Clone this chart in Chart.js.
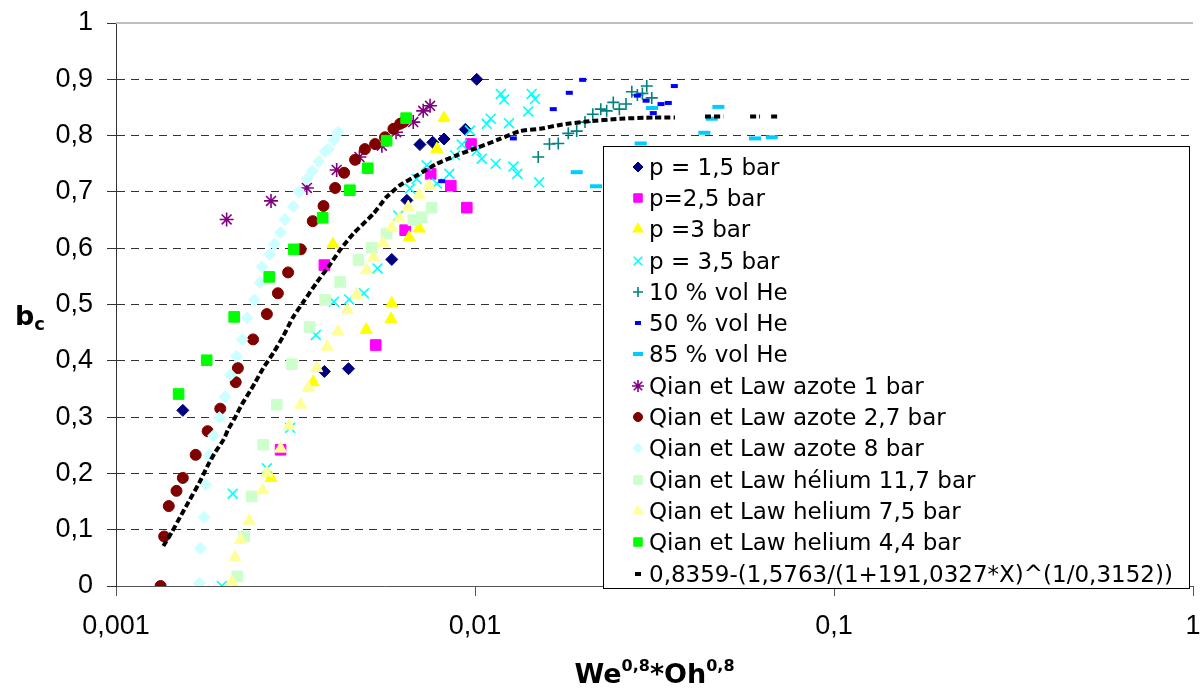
<!DOCTYPE html>
<html>
<head>
<meta charset="utf-8">
<script src="https://cdn.jsdelivr.net/npm/chart.js@4.4.1/dist/chart.umd.min.js"></script>
<style>
  body { margin: 0; background: #fff; }
  #wrap { position: relative; width: 1203px; height: 689px; }
  #legend {
    position: absolute; left: 603px; top: 146px; width: 585px; height: 437px;
    border: 1px solid #000; background: #fff; padding-top: 4px;
    font-family: "DejaVu Sans", sans-serif; font-size: 23px; color: #000;
  }
  .row { height: 31.3px; display: flex; align-items: center; white-space: nowrap; }
  .row canvas { margin-left: 23px; }
  #xtitle {
    position: absolute; left: 116px; width: 1077px; top: 656px; text-align: center;
    font-family: "DejaVu Sans", sans-serif; font-weight: bold; font-size: 27px;
  }
  #xtitle sup { font-size: 16px; vertical-align: 12px; }
  #ytitle {
    position: absolute; left: 15px; top: 300px;
    font-family: "DejaVu Sans", sans-serif; font-weight: bold; font-size: 27px;
  }
  #ytitle sub { font-size: 18px; vertical-align: -5px; }
</style>
</head>
<body>
<div id="wrap">
  <canvas id="chart" width="1203" height="689"></canvas>
  <div id="ytitle">b<sub>c</sub></div>
  <div id="xtitle">We<sup>0,8</sup>*Oh<sup>0,8</sup></div>
  <div id="legend"></div>
</div>
<script>
// axes
const xTicks = [0.001, 0.01, 0.1, 1];
const xTickLabels = ['0,001', '0,01', '0,1', '1'];
const yTickLabels = ['0', '0,1', '0,2', '0,3', '0,4', '0,5', '0,6', '0,7', '0,8', '0,9', '1'];

// mesures
const p15X = [0.001535, 0.003806, 0.004443, 0.005864, 0.00646, 0.007023, 0.007627, 0.0082, 0.009397, 0.01011];
const p15Y = [0.312, 0.381, 0.386, 0.58, 0.685, 0.784, 0.788, 0.794, 0.811, 0.9];

const p25X = [0.002874, 0.003806, 0.00529, 0.006389, 0.007527, 0.008563, 0.009487, 0.009749];
const p25Y = [0.242, 0.57, 0.428, 0.632, 0.732, 0.711, 0.672, 0.785];

const p3X = [0.001708, 0.002703, 0.003543, 0.004018, 0.004977, 0.005834, 0.005864, 0.006559, 0.006992, 0.007828, 0.0082];
const p3Y = [0, 0.192, 0.362, 0.607, 0.455, 0.474, 0.502, 0.619, 0.635, 0.776, 0.831];

const p35X = [0.0118, 0.01205, 0.01438, 0.01469, 0.01407, 0.01078, 0.01106, 0.01244, 0.00968, 0.009186, 0.008804,
  0.01011, 0.01044, 0.01142, 0.01279, 0.01312, 0.01509, 0.007335, 0.008482, 0.007828, 0.006882, 0.006589, 0.006116,
  0.00535, 0.004906, 0.004462, 0.004048, 0.003603, 0.003056, 0.002632, 0.002114, 0.001972];
const p35Y = [0.874, 0.864, 0.874, 0.865, 0.843, 0.821, 0.83, 0.822, 0.809, 0.784, 0.765,
  0.773, 0.759, 0.75, 0.745, 0.732, 0.717, 0.747, 0.732, 0.715, 0.723, 0.706, 0.658,
  0.564, 0.52, 0.509, 0.505, 0.446, 0.281, 0.209, 0.164, 0];

const he10X = [0.015, 0.01612, 0.01706, 0.01819, 0.0192, 0.02025, 0.02128, 0.0224, 0.02327, 0.02428,
  0.02524, 0.02634, 0.02734, 0.02833, 0.02926, 0.03009, 0.03107];
const he10Y = [0.762, 0.785, 0.786, 0.804, 0.808, 0.824, 0.838, 0.847, 0.844, 0.859,
  0.847, 0.856, 0.878, 0.872, 0.875, 0.888, 0.867];

const he50X = [0.00808, 0.01279, 0.01652, 0.01831, 0.01995, 0.02833, 0.02996, 0.03138, 0.03297, 0.03455, 0.03591];
const he50Y = [0.719, 0.795, 0.847, 0.876, 0.899, 0.871, 0.862, 0.84, 0.856, 0.858, 0.888];

const he85X = [0.0192, 0.02173, 0.02895, 0.03113, 0.04354, 0.04565, 0.04764, 0.06026, 0.06709];
const he85Y = [0.735, 0.71, 0.786, 0.849, 0.805, 0.83, 0.851, 0.795, 0.797];

const az1X = [0.002033, 0.002703, 0.003401, 0.004118, 0.004765, 0.005502, 0.006026, 0.00673, 0.007173, 0.007496];
const az1Y = [0.651, 0.684, 0.707, 0.739, 0.762, 0.782, 0.806, 0.824, 0.844, 0.853];

const az27X = [0.001331, 0.001362, 0.001403, 0.001474, 0.001535, 0.001667, 0.0018, 0.001952, 0.002155, 0.002185,
  0.002409, 0.002632, 0.002824, 0.003016, 0.003269, 0.003532, 0.003785, 0.004078, 0.00432, 0.004633,
  0.004936, 0.005269, 0.005612, 0.005925, 0.006187, 0.006318];
const az27Y = [0, 0.088, 0.142, 0.169, 0.192, 0.233, 0.275, 0.315, 0.362, 0.387,
  0.438, 0.483, 0.52, 0.557, 0.598, 0.648, 0.675, 0.707, 0.734, 0.757,
  0.776, 0.785, 0.797, 0.812, 0.821, 0.824];

const az8X = [0.001708, 0.001718, 0.001759, 0.001779, 0.00182, 0.001871, 0.001942, 0.002013, 0.002084, 0.002165,
  0.002246, 0.002317, 0.002429, 0.00252, 0.002551, 0.002682, 0.002763, 0.002874, 0.002955, 0.003117,
  0.003239, 0.003401, 0.003522, 0.003674, 0.003825, 0.003906, 0.004048, 0.004159];
const az8Y = [0.005, 0.067, 0.122, 0.18, 0.232, 0.267, 0.299, 0.336, 0.375, 0.408,
  0.438, 0.476, 0.508, 0.539, 0.567, 0.589, 0.607, 0.628, 0.651, 0.674,
  0.7, 0.723, 0.737, 0.754, 0.772, 0.776, 0.792, 0.806];

const he117X = [0.002175, 0.002276, 0.002388, 0.002571, 0.002804, 0.003087, 0.003461, 0.003825, 0.00421, 0.004735,
  0.005158, 0.005673, 0.00673, 0.007103, 0.007576];
const he117Y = [0.017, 0.088, 0.159, 0.251, 0.322, 0.394, 0.46, 0.508, 0.54, 0.579,
  0.601, 0.626, 0.65, 0.655, 0.672];

const he75X = [0.002104, 0.002145, 0.002226, 0.002348, 0.002561, 0.002632, 0.002874, 0.003036, 0.003269, 0.003431,
  0.003623, 0.003876, 0.004149, 0.004412, 0.004684, 0.004987, 0.005209, 0.005552, 0.005864, 0.006157,
  0.006519, 0.006992, 0.007456];
const he75Y = [0.007, 0.051, 0.082, 0.116, 0.17, 0.201, 0.244, 0.284, 0.322, 0.352,
  0.387, 0.425, 0.452, 0.49, 0.517, 0.561, 0.583, 0.609, 0.636, 0.653,
  0.673, 0.695, 0.711];

const he44X = [0.001494, 0.001789, 0.002134, 0.002672, 0.003127, 0.003764, 0.004482, 0.005027, 0.005673, 0.006429];
const he44Y = [0.341, 0.401, 0.478, 0.549, 0.598, 0.654, 0.703, 0.742, 0.791, 0.831];

// courbe de lissage (null = trou)
const fitX = [0.001355, 0.001429, 0.001507, 0.001566, 0.001708, 0.001808, 0.001891, 0.001993, 0.002053, 0.002145,
  0.00224, 0.002362, 0.002439, 0.002571, 0.002743, 0.002925, 0.003117, 0.00333, 0.003623, 0.003906,
  0.00421, 0.004583, 0.005209, 0.005673, 0.006187, 0.006882, 0.007828, 0.008894, 0.01011, 0.01174,
  0.01334, 0.01517, 0.01725, 0.02047, 0.02535, 0.03138, 0.03607, 0.04, 0.04373, 0.04919,
  0.054, 0.05838, 0.06223, 0.064, 0.06681, 0.06944];
const fitY = [0.071, 0.095, 0.122, 0.141, 0.184, 0.216, 0.238, 0.26, 0.278, 0.299,
  0.322, 0.346, 0.361, 0.387, 0.414, 0.444, 0.478, 0.505, 0.539, 0.567,
  0.597, 0.626, 0.661, 0.691, 0.712, 0.729, 0.75, 0.765, 0.778, 0.794,
  0.808, 0.812, 0.819, 0.825, 0.83, 0.832, 0.832, null, 0.834, 0.834,
  null, 0.834, 0.834, null, 0.834, 0.834];

const series = [
  { label: 'p = 1,5 bar', xs: p15X, ys: p15Y, style: 'rectRot', r: 6, color: '#000080', bw: 1, lr: 5 },
  { label: 'p=2,5 bar', xs: p25X, ys: p25Y, style: 'rect', r: 7.5, color: '#FF00FF', bw: 1, lr: 6 },
  { label: 'p =3 bar', xs: p3X, ys: p3Y, style: 'triangle', r: 7, color: '#FFFF00', bw: 1, lr: 6 },
  { label: 'p = 3,5 bar', xs: p35X, ys: p35Y, style: 'crossRot', r: 7, color: '#00FFFF', bw: 1.6, lr: 6 },
  { label: '10 % vol He', xs: he10X, ys: he10Y, style: 'cross', r: 6, color: '#008080', bw: 1.6, lr: 5 },
  { label: '50 % vol He', xs: he50X, ys: he50Y, style: 'line', r: 3.5, color: '#0000FF', bw: 4, lr: 3 },
  { label: '85 % vol He', xs: he85X, ys: he85Y, style: 'line', r: 6, color: '#00CCFF', bw: 4, lr: 5 },
  { label: 'Qian et Law azote 1 bar', xs: az1X, ys: az1Y, style: 'star', r: 7, color: '#800080', bw: 1.6, lr: 6 },
  { label: 'Qian et Law azote 2,7 bar', xs: az27X, ys: az27Y, style: 'circle', r: 5.5, color: '#800000', bw: 1, lr: 4.5 },
  { label: 'Qian et Law azote 8 bar', xs: az8X, ys: az8Y, style: 'rectRot', r: 6, color: '#CCFFFF', bw: 1, lr: 5 },
  { label: 'Qian et Law hélium 11,7 bar', xs: he117X, ys: he117Y, style: 'rect', r: 7.5, color: '#CCFFCC', bw: 1, lr: 6 },
  { label: 'Qian et Law helium 7,5 bar', xs: he75X, ys: he75Y, style: 'triangle', r: 7, color: '#FFFF99', bw: 1, lr: 6 },
  { label: 'Qian et Law helium 4,4 bar', xs: he44X, ys: he44Y, style: 'rect', r: 7.5, color: '#00FF00', bw: 1, lr: 6 },
  { label: '0,8359-(1,5763/(1+191,0327*X)^(1/0,3152))', xs: fitX, ys: fitY, style: 'line', r: 0, color: '#000000', bw: 4, lr: 3, fit: true }
];

const n = series.length;
const datasets = series.map((s, i) => {
  const ds = {
    label: s.label,
    data: s.xs.map((x, k) => ({ x: x, y: s.ys[k] })),
    pointStyle: s.style,
    pointRadius: s.r,
    pointHoverRadius: s.r,
    backgroundColor: s.color,
    borderColor: s.color,
    pointBorderWidth: s.bw,
    order: n - 1 - i
  };
  if (s.fit) {
    ds.showLine = true;
    ds.borderWidth = 4;
    ds.borderDash = [6, 3];
    ds.tension = 0.2;
    ds.spanGaps = false;
  }
  return ds;
});

const topLine = {
  id: 'topLine',
  beforeDatasetsDraw(chart) {
    const { ctx, chartArea: a } = chart;
    ctx.save();
    ctx.strokeStyle = '#c0c0c0';
    ctx.lineWidth = 2;
    ctx.beginPath();
    ctx.moveTo(a.left, a.top);
    ctx.lineTo(a.right, a.top);
    ctx.stroke();
    ctx.restore();
  }
};

new Chart(document.getElementById('chart'), {
  type: 'scatter',
  data: { datasets },
  options: {
    responsive: false,
    animation: false,
    layout: { padding: { top: 23, right: 10, left: 0, bottom: 0 } },
    plugins: { legend: { display: false }, tooltip: { enabled: false } },
    scales: {
      x: {
        type: 'logarithmic',
        min: 0.001,
        max: 1,
        afterBuildTicks: (scale) => { scale.ticks = xTicks.map(v => ({ value: v })); },
        afterFit: (scale) => {
          scale.height = 103;
          scale.paddingLeft = 0;
          scale.paddingRight = 0;
        },
        ticks: {
          autoSkip: false,
          maxRotation: 0,
          padding: 14,
          color: '#000',
          font: { family: 'Liberation Sans', size: 27 },
          callback: (v, i) => xTickLabels[i]
        },
        grid: { drawOnChartArea: false, tickLength: 10, color: '#555', tickColor: '#555' },
        border: { color: '#555', width: 1 }
      },
      y: {
        min: 0,
        max: 1,
        afterFit: (scale) => {
          scale.width = 116;
          scale.paddingTop = 0;
          scale.paddingBottom = 0;
        },
        ticks: {
          stepSize: 0.1,
          padding: 14,
          color: '#000',
          font: { family: 'Liberation Sans', size: 27 },
          callback: (v, i) => yTickLabels[i]
        },
        grid: {
          color: (c) => (c.index === 0 || c.index === 10) ? 'rgba(0,0,0,0)' : '#333',
          tickColor: '#333',
          tickLength: 9
        },
        border: { color: '#333', width: 1, dash: [8, 6] }
      }
    }
  },
  plugins: [topLine]
});

// légende
const legend = document.getElementById('legend');
series.forEach(s => {
  const row = document.createElement('div');
  row.className = 'row';
  const c = document.createElement('canvas');
  c.width = 22; c.height = 20;
  const g = c.getContext('2d');
  g.fillStyle = s.color;
  g.strokeStyle = s.color;
  g.lineWidth = s.bw;
  if (window.Chart && Chart.helpers && Chart.helpers.drawPoint) {
    Chart.helpers.drawPoint(g, { pointStyle: s.style, radius: s.lr, borderWidth: s.bw, rotation: 0 }, 11, 10);
  }
  const t = document.createElement('span');
  t.textContent = s.label;
  row.appendChild(c);
  row.appendChild(t);
  legend.appendChild(row);
});
</script>
</body>
</html>
